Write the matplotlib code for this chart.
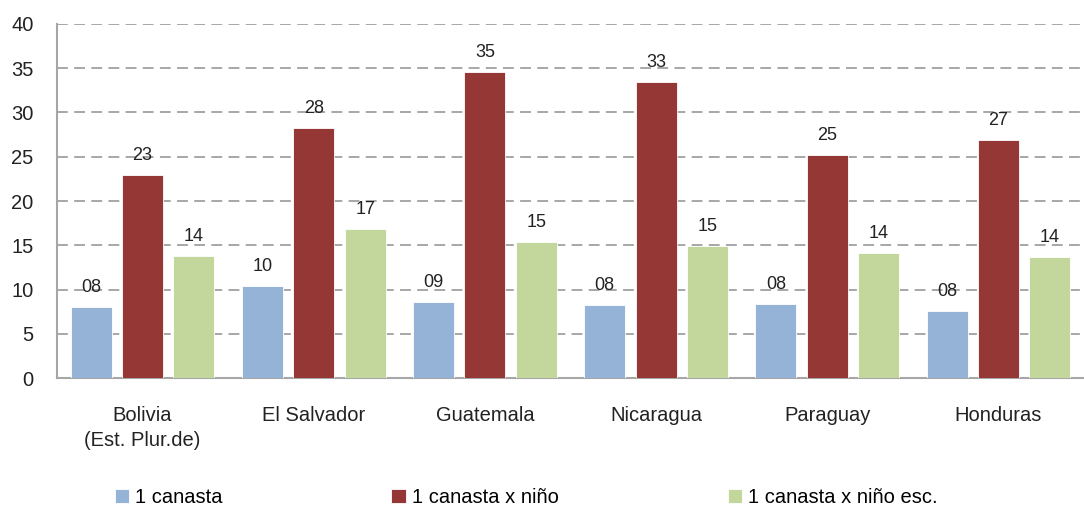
import numpy as np
import matplotlib
matplotlib.use('Agg')
import matplotlib.pyplot as plt

plt.rcParams['font.family'] = ['Liberation Sans', 'DejaVu Sans']

paises = ['Bolivia\n(Est. Plur.de)', 'El Salvador', 'Guatemala', 'Nicaragua', 'Paraguay', 'Honduras']
canasta = [8.0, 10.4, 8.6, 8.2, 8.4, 7.6]
canasta_nino = [22.9, 28.2, 34.6, 33.4, 25.2, 26.9]
canasta_nino_esc = [13.8, 16.8, 15.4, 14.9, 14.1, 13.7]

series = [
    ('1 canasta', canasta, '#95b3d7'),
    ('1 canasta x niño', canasta_nino, '#953735'),
    ('1 canasta x niño esc.', canasta_nino_esc, '#c3d69b'),
]

fig = plt.figure(figsize=(10.84, 5.07), dpi=100)
ax = fig.add_axes([0.0526, 0.2544, 0.9474, 0.6983])

x = np.arange(len(paises))
ancho = 0.24
paso = 0.30

barras = []
for i, (nombre, valores, color) in enumerate(series):
    b = ax.bar(x + (i - 1) * paso, valores, ancho, color=color, label=nombre,
               edgecolor='white', linewidth=0.6, zorder=3)
    barras.append(b)
    for xi, v in zip(x + (i - 1) * paso, valores):
        ax.annotate('%02.0f' % v, (xi, v), xytext=(0, 8), textcoords='offset points',
                    ha='center', va='bottom', fontsize=13, color='#222222', zorder=4)

ax.set_ylim(0, 40)
ax.set_xlim(-0.5, len(paises) - 0.5)
ax.set_yticks(range(0, 41, 5))
ax.set_xticks(x)
ax.set_xticklabels(paises, fontsize=14.5, color='#222222', linespacing=1.4)
ax.tick_params(axis='y', labelsize=14.5, colors='#222222', length=0, pad=17)
ax.tick_params(axis='x', length=0, pad=20)

ax.grid(axis='y', color='#a0a0a0', linestyle=(0, (6, 3.5)), linewidth=1.3, zorder=0)
for s in ['top', 'right']:
    ax.spines[s].set_visible(False)
for s in ['left', 'bottom']:
    ax.spines[s].set_color('#a6a6a6')
    ax.spines[s].set_linewidth(1.5)

fig.legend(handles=barras, loc='lower left', bbox_to_anchor=(0.089, -0.035), ncol=3,
           frameon=False, fontsize=14.5, handlelength=0.7, handleheight=0.7,
           handletextpad=0.3, columnspacing=8.4)

fig.savefig('out.png', dpi=100)
